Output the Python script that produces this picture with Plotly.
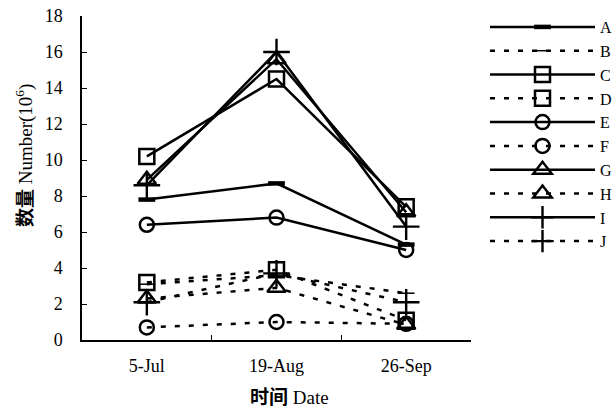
import plotly.graph_objects as go

dates = ["5-Jul", "19-Aug", "26-Sep"]
names = ["A", "B", "C", "D", "E", "F", "G", "H", "I", "J"]

A = [7.8, 8.7, 5.3]
B = [3.1, 3.6, 2.6]
C = [10.2, 14.5, 7.4]
D = [3.2, 3.9, 1.1]
E = [6.4, 6.8, 5.0]
F = [0.7, 1.0, 0.9]
G = [8.9, 15.6, 7.1]
H = [2.3, 2.9, 0.85]
I = [8.6, 16.0, 6.3]
J = [2.1, 3.7, 2.1]

series = [A, B, C, D, E, F, G, H, I, J]
symbols = ["line-ew", "line-ew", "square-open", "square-open", "circle-open",
           "circle-open", "triangle-up-open", "triangle-up-open", "cross-thin", "cross-thin"]
sizes = [12, 12, 15, 15, 14, 14, 16, 16, 19, 19]
mlw = [4.5, 1.5, 2.5, 2.5, 2.5, 2.5, 2.5, 2.5, 2.4, 2.4]

fig = go.Figure()
for i, (nm, ys) in enumerate(zip(names, series)):
    solid = (i % 2 == 0)
    fig.add_trace(go.Scatter(
        x=dates, y=ys, name=nm, mode="lines+markers",
        line=dict(color="black", width=2.5,
                  dash="solid" if solid else "5px,9px"),
        marker=dict(symbol=symbols[i], size=sizes[i], color="black",
                    line=dict(color="black", width=mlw[i])),
    ))

serif = "Liberation Serif"
cjk = "Noto Sans CJK SC"

fig.update_layout(
    width=613, height=412,
    margin=dict(l=82, r=142, t=16, b=72, autoexpand=False),
    plot_bgcolor="white", paper_bgcolor="white",
    showlegend=True,
    legend=dict(x=(485 - 82) / 389, y=(340 - 10) / 324, xanchor="left", yanchor="top",
                itemwidth=105, tracegroupgap=0, maxheight=400,
                font=dict(family=serif, size=16, color="black"),
                bgcolor="rgba(0,0,0,0)"),
    xaxis=dict(type="category", range=[-0.5, 2.5], showline=True, linecolor="black",
               linewidth=1.5, ticks="inside", tickson="boundaries", ticklen=5,
               tickcolor="black", showgrid=False, zeroline=False,
               tickfont=dict(family=serif, size=18, color="black"),
               ticklabelstandoff=9),
    yaxis=dict(range=[0, 18], dtick=2, showline=True, linecolor="black", linewidth=1.5,
               ticks="inside", ticklen=5, tickcolor="black", showgrid=False,
               zeroline=False, tickfont=dict(family=serif, size=18, color="black"),
               ticklabelstandoff=14, ticklabeloverflow="allow"),
    annotations=[
        dict(text="<b>时间</b> Date", xref="paper", yref="paper",
             x=(289 - 82) / 389, y=-(397 - 340) / 324, showarrow=False,
             xanchor="center", yanchor="middle",
             font=dict(family=serif + ", " + cjk, size=19, color="black")),
        dict(text="<b>数量</b> Number(10<sup>6</sup>)", xref="paper", yref="paper",
             x=-(82 - 24) / 389, y=(340 - 156) / 324, showarrow=False,
             textangle=-90, xanchor="center", yanchor="middle",
             font=dict(family=serif + ", " + cjk, size=19, color="black")),
    ],
)

fig.write_html("out.html", config={"displayModeBar": False},
               post_script="document.body.style.margin='0px';")
